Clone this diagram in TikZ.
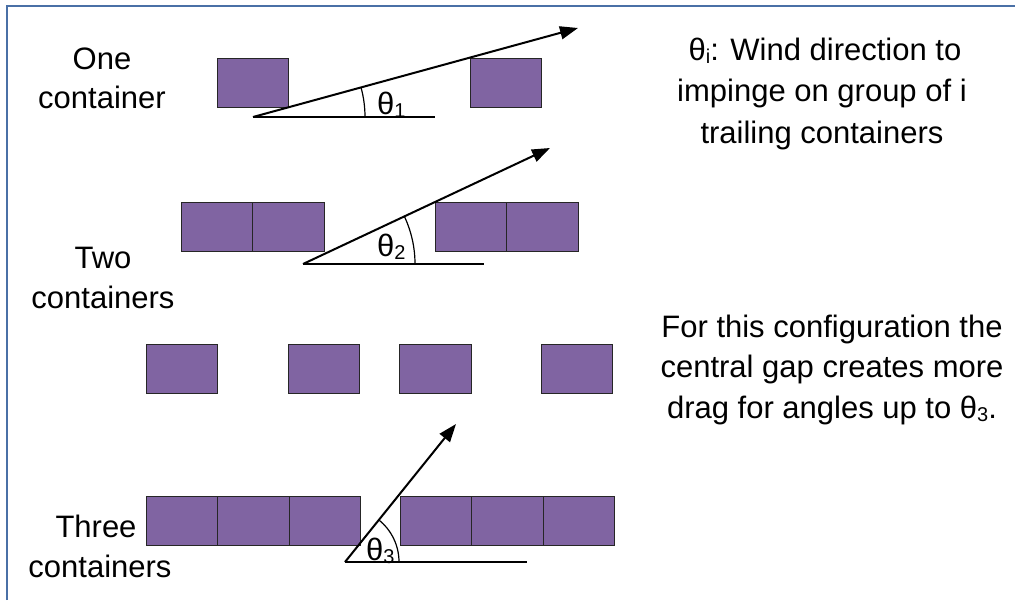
\documentclass[tikz,border=0pt]{standalone}
\usepackage{fontspec}
\setmainfont{Liberation Sans}
\newfontfamily\labfont{Liberation Sans}
\usetikzlibrary{arrows.meta,calc}
\definecolor{cont}{HTML}{8064A2}
\definecolor{framecol}{HTML}{4A70A6}
\newcommand{\sbs}[1]{\raisebox{-0.1em}{\fontsize{20}{20}\selectfont #1}}
\begin{document}
\begin{tikzpicture}[x=1pt,y=-1pt,
  box/.style={draw=black!85, line width=1pt, fill=cont, minimum width=71.5pt, minimum height=49pt, inner sep=0pt, outer sep=0pt},
  lab/.style={font=\labfont\fontsize{31}{40}\selectfont, anchor=base, inner sep=0pt},
  wind/.style={line width=2pt, -{Triangle[length=18pt,width=13pt]}},
  ground/.style={line width=2pt},
  angarc/.style={line width=1.2pt}]
\useasboundingbox (0,0) rectangle (1015,600);
\fill[white] (0,0) rectangle (1015,600);
\draw[framecol, line width=2pt] (7,600) -- (7,5.5) -- (1015,5.5);

% left labels
\node[lab] (l1a) at (102,69) {One};
\node[lab] (l1b) at (102,108) {container};
\node[lab] (l2a) at (103,268) {Two};
\node[lab] (l2b) at (103,308) {containers};
\node[lab] (l3a) at (96,537) {Three};
\node[lab] (l3b) at (100,577) {containers};

% right texts
\node[lab] (r1) at (825,60) {θ\sbs{i}: Wind direction to};
\node[lab] (r2) at (822,101) {impinge on group of i};
\node[lab] (r3) at (822,143) {trailing containers};
\node[lab] (s1) at (832,337) {For this configuration the};
\node[lab] (s2) at (832,377) {central gap creates more};
\node[lab] (s3) at (832,418) {drag for angles up to θ\sbs{3}.};

% row 1
\node[box] (a1) at (253,82.5) {};
\node[box] (a2) at (506,82.5) {};
% row 2
\node[box] (b1) at (217,226.5) {};
\node[box] (b2) at (288.5,226.5) {};
\node[box] (b3) at (471,226.5) {};
\node[box] (b4) at (542.5,226.5) {};
% row 3
\node[box] (c1) at (182,368.5) {};
\node[box] (c2) at (324,368.5) {};
\node[box] (c3) at (435.5,368.5) {};
\node[box] (c4) at (577,368.5) {};
% row 4
\node[box] (d1) at (182,520.5) {};
\node[box] (d2) at (253.5,520.5) {};
\node[box] (d3) at (325,520.5) {};
\node[box] (d4) at (436,520.5) {};
\node[box] (d5) at (507.5,520.5) {};
\node[box] (d6) at (579,520.5) {};

% angle 1
\coordinate (o1) at (253,117);
\coordinate (g1) at (435,117);
\coordinate (t1) at (578,28);
\draw[ground] (o1) -- (g1);
\draw[wind] (o1) -- (t1);
\draw[angarc] ($(o1)+(112,0)$) arc[start angle=0, end angle=-15.3, radius=112];
\node[lab, anchor=base west] (th1) at (377,114) {θ\sbs{1}};

% angle 2
\coordinate (o2) at (303,264);
\coordinate (g2) at (484,264);
\coordinate (t2) at (550,148);
\draw[ground] (o2) -- (g2);
\draw[wind] (o2) -- (t2);
\draw[angarc] ($(o2)+(112,0)$) arc[start angle=0, end angle=-25.2, radius=112];
\node[lab, anchor=base west] (th2) at (377,256) {θ\sbs{2}};

% angle 3
\coordinate (o3) at (345,562);
\coordinate (g3) at (527,562);
\coordinate (t3) at (456,424);
\draw[ground] (o3) -- (g3);
\draw[wind] (o3) -- (t3);
\draw[angarc] ($(o3)+(54,0)$) arc[start angle=0, end angle=-51.2, radius=54];
\node[lab, anchor=base west] (th3) at (366,560) {θ\sbs{3}};
\end{tikzpicture}
\end{document}
